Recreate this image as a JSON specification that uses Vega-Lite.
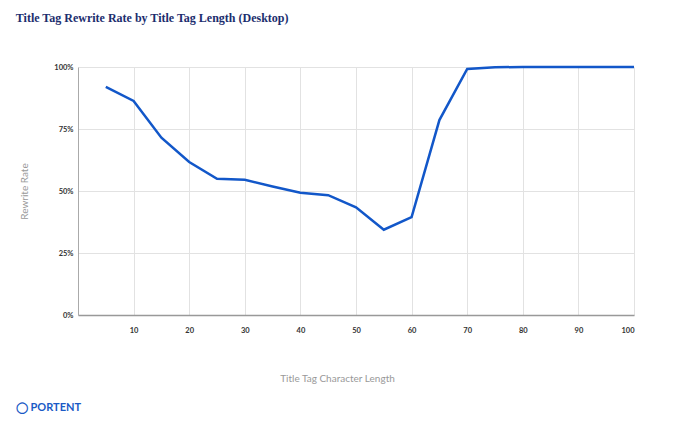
{
  "$schema": "https://vega.github.io/schema/vega-lite/v6.json",
  "background": "white",
  "padding": {"left": 15, "top": 12, "right": 10, "bottom": 5},
  "title": {
    "text": "Title Tag Rewrite Rate by Title Tag Length (Desktop)",
    "anchor": "start",
    "frame": "bounds",
    "font": "Liberation Serif",
    "fontSize": 12,
    "fontWeight": "bold",
    "color": "#1c2e6e",
    "offset": 37
  },
  "vconcat": [
    {
      "width": 556,
      "height": 248,
      "title": {
        "text": "◯ PORTENT",
        "orient": "bottom",
        "anchor": "start",
        "frame": "bounds",
        "font": "Lato",
        "fontSize": 11,
        "fontWeight": "bold",
        "color": "#1a5ac6",
        "offset": 18,
        "dx": -4
      },
      "data": {
        "values": [
          {"length": 5, "rate": 0.92},
          {"length": 10, "rate": 0.863},
          {"length": 15, "rate": 0.715},
          {"length": 20, "rate": 0.617},
          {"length": 25, "rate": 0.549},
          {"length": 30, "rate": 0.545},
          {"length": 35, "rate": 0.518},
          {"length": 40, "rate": 0.493},
          {"length": 45, "rate": 0.483},
          {"length": 50, "rate": 0.434},
          {"length": 55, "rate": 0.344},
          {"length": 60, "rate": 0.395},
          {"length": 65, "rate": 0.786},
          {"length": 70, "rate": 0.992},
          {"length": 75, "rate": 0.999},
          {"length": 80, "rate": 1.0},
          {"length": 85, "rate": 1.0},
          {"length": 90, "rate": 1.0},
          {"length": 95, "rate": 1.0},
          {"length": 100, "rate": 1.0}
        ]
      },
      "mark": {"type": "line", "color": "#1257c9", "strokeWidth": 2.5},
      "encoding": {
        "x": {
          "field": "length",
          "type": "quantitative",
          "scale": {"domain": [0, 100], "nice": false},
          "axis": {
            "values": [10, 20, 30, 40, 50, 60, 70, 80, 90, 100],
            "title": "Title Tag Character Length",
            "titlePadding": 40,
            "titleX": 259,
            "labelPadding": 11,
            "domainColor": "#999999",
            "domainWidth": 1.5
          }
        },
        "y": {
          "field": "rate",
          "type": "quantitative",
          "scale": {"domain": [0, 1], "nice": false},
          "axis": {
            "values": [0, 0.25, 0.5, 0.75, 1],
            "format": ".0%",
            "title": "Rewrite Rate",
            "titlePadding": 24,
            "labelPadding": 5,
            "domainColor": "#aaaaaa"
          }
        }
      }
    }
  ],
  "config": {
    "view": {"stroke": null},
    "axis": {
      "grid": true,
      "gridColor": "#e2e2e2",
      "ticks": false,
      "labelFont": "Lato",
      "labelFontSize": 7.5,
      "labelFontWeight": "bold",
      "labelColor": "#333333",
      "titleFont": "Lato",
      "titleFontSize": 10,
      "titleFontWeight": "normal",
      "titleColor": "#999999"
    }
  }
}
